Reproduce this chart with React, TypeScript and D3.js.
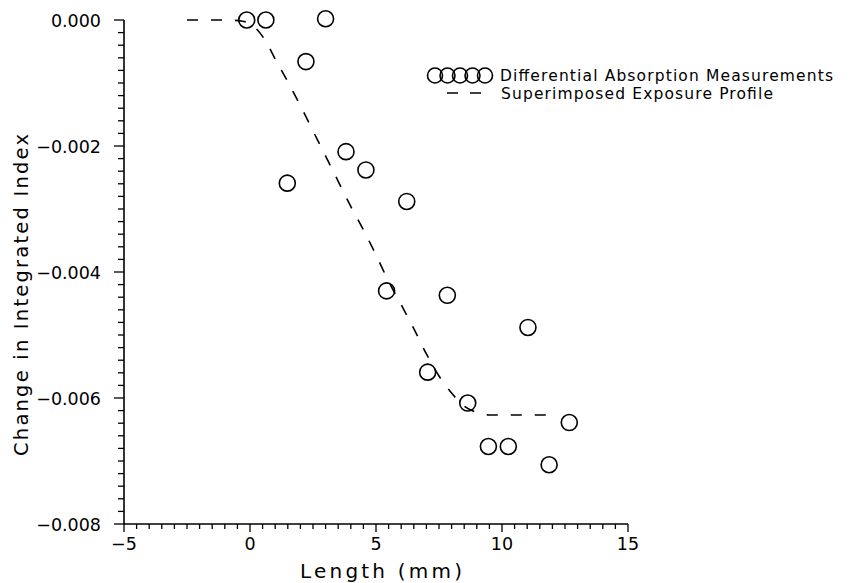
import React from "react";
import * as d3 from "d3";

// Measurement points (Differential Absorption Measurements)
const measX = [-0.13, 0.63, 1.48, 2.22, 3.0, 3.81, 4.6, 5.42, 6.22, 7.05, 7.83, 8.64, 9.46, 10.25, 11.03, 11.87, 12.67];
const measY = [0.0, 0.0, -0.00259, -0.00066, 0.00002, -0.00209, -0.00238, -0.0043, -0.00288, -0.00559, -0.00437, -0.00608, -0.00677, -0.00677, -0.00488, -0.00706, -0.00639];

// Superimposed exposure profile
const profX = [-2.5, -1.0, -0.3, 0.2, 0.6, 1.0, 1.5, 2.0, 2.5, 3.0, 3.5, 4.0, 4.5, 5.0, 5.5, 6.0, 6.5, 7.0, 7.5, 8.0, 8.5, 9.0, 9.5, 10.5, 11.5, 12.1];
const profY = [0, 0, -0.00002, -0.00012, -0.00032, -0.00062, -0.00098, -0.00136, -0.00176, -0.00216, -0.00256, -0.00296, -0.00333, -0.00373, -0.00415, -0.00452, -0.0049, -0.0053, -0.00565, -0.00592, -0.00613, -0.00623, -0.00627, -0.00627, -0.00627, -0.00627];

const xTicks = [-5, 0, 5, 10, 15];
const yTicks = [0, -0.002, -0.004, -0.006, -0.008];

const FONT = "'DejaVu Sans', sans-serif";

export default function App() {
  const W = 867, H = 583;
  const x = d3.scaleLinear().domain([-5, 15]).range([124, 628]);
  const y = d3.scaleLinear().domain([-0.008, 0]).range([524, 20]);
  const xMinor = d3.range(-5, 15.001, 0.5);
  const yMinor = d3.range(-0.008, 0.00001, 0.0002);
  const fmt = d3.format(".3f");
  const line = d3
    .line<number>()
    .x((_, i) => x(profX[i]))
    .y((d) => y(d))
    .curve(d3.curveMonotoneX);

  return (
    <svg width={W} height={H} style={{ position: "absolute", left: 0, top: 0, background: "#fff" }}>
      <rect width={W} height={H} fill="#fff" />
      {/* axes lines */}
      <line x1={x(-5)} x2={x(15)} y1={y(-0.008)} y2={y(-0.008)} stroke="#000" strokeWidth={1.6} />
      <line x1={x(-5)} x2={x(-5)} y1={y(-0.008)} y2={y(0)} stroke="#000" strokeWidth={1.6} />
      {/* x minor ticks */}
      {xMinor.map((v, i) => {
        const major = Math.abs(v % 5) < 1e-6;
        return (
          <line key={"xm" + i} x1={x(v)} x2={x(v)} y1={y(-0.008)} y2={y(-0.008) + (major ? 8 : 5)} stroke="#000" strokeWidth={1.3} />
        );
      })}
      {/* y minor ticks */}
      {yMinor.map((v, i) => {
        const major = Math.abs(Math.round(v / 0.002) * 0.002 - v) < 1e-7;
        return (
          <line key={"ym" + i} x1={x(-5) - (major ? 10 : 6)} x2={x(-5)} y1={y(v)} y2={y(v)} stroke="#000" strokeWidth={1.3} />
        );
      })}
      {/* x tick labels */}
      {xTicks.map((v) => (
        <text key={"xt" + v} x={x(v)} y={550} fontFamily={FONT} fontSize={17.5} textAnchor="middle" fill="#000">
          {v < 0 ? "\u2212" + Math.abs(v) : String(v)}
        </text>
      ))}
      {/* y tick labels */}
      {yTicks.map((v) => (
        <text key={"yt" + v} x={101} y={y(v) + 6.5} fontFamily={FONT} fontSize={17.5} textAnchor="end" fill="#000">
          {v === 0 ? "0.000" : fmt(v)}
        </text>
      ))}
      {/* axis titles */}
      <text x={381} y={578} fontFamily={FONT} fontSize={20} textAnchor="middle" fill="#000" textLength={162} lengthAdjust="spacing">
        Length (mm)
      </text>
      <text
        transform={`translate(28, 295) rotate(-90)`}
        fontFamily={FONT}
        fontSize={19.5}
        textAnchor="middle"
        fill="#000"
        textLength={322}
        lengthAdjust="spacing"
      >
        Change in Integrated Index
      </text>
      {/* profile */}
      <path d={line(profY) || ""} fill="none" stroke="#000" strokeWidth={1.6} strokeDasharray="11 13" />
      {/* measurements */}
      {measX.map((v, i) => (
        <circle key={"c" + i} cx={x(v)} cy={y(measY[i])} r={8} fill="none" stroke="#000" strokeWidth={1.6} />
      ))}
      {/* legend */}
      {[0, 1, 2, 3, 4].map((k) => (
        <circle key={"lc" + k} cx={435 + k * 12.5} cy={75.5} r={7.5} fill="none" stroke="#000" strokeWidth={1.6} />
      ))}
      <text x={500} y={80.5} fontFamily={FONT} fontSize={15.5} fill="#000" textLength={333} lengthAdjust="spacing">
        Differential Absorption Measurements
      </text>
      <line x1={447} x2={482} y1={93} y2={93} stroke="#000" strokeWidth={1.6} strokeDasharray="11 12" />
      <text x={501} y={98.5} fontFamily={FONT} fontSize={15.5} fill="#000" textLength={272} lengthAdjust="spacing">
        Superimposed Exposure Profile
      </text>
    </svg>
  );
}
